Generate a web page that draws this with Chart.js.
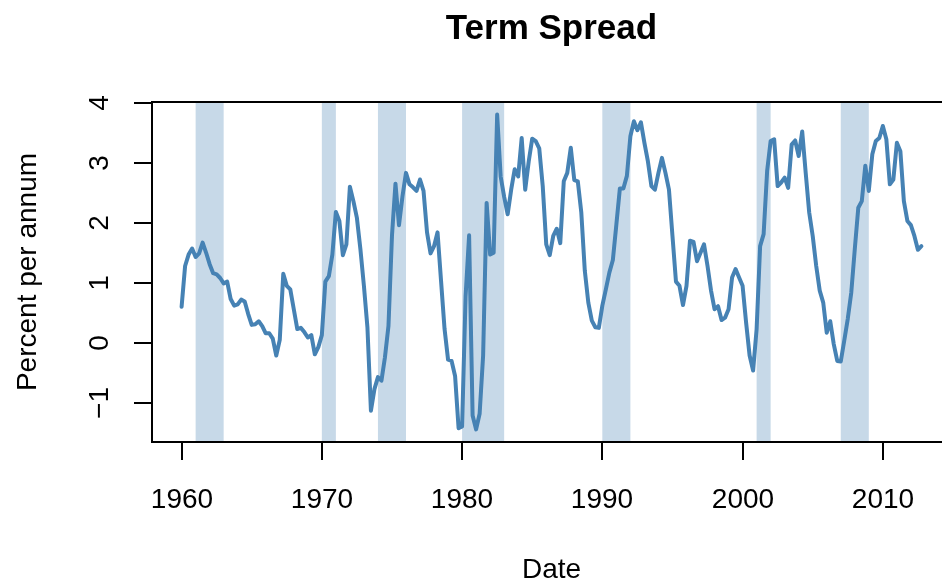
<!DOCTYPE html>
<html>
<head>
<meta charset="utf-8">
<title>Term Spread</title>
<script src="https://cdn.jsdelivr.net/npm/chart.js@4.4.1/dist/chart.umd.min.js"></script>
<style>
  html, body { margin: 0; padding: 0; background: #fff; overflow: hidden; }
  #wrap { width: 955px; height: 583px; position: relative; }
</style>
</head>
<body>
<div id="wrap"><canvas id="spreadChart"></canvas></div>
<script>
// 10-year minus 3-month rate, quarterly from 1960 Q1
const startYear = 1960;
const spread = [
  0.60, 1.28, 1.47, 1.57, 1.43, 1.49, 1.67, 1.50,
  1.31, 1.16, 1.14, 1.08, 0.99, 1.02, 0.73, 0.62,
  0.64, 0.72, 0.69, 0.48, 0.30, 0.31, 0.36, 0.28,
  0.16, 0.16, 0.07, -0.21, 0.05, 1.15, 0.95, 0.89,
  0.56, 0.23, 0.25, 0.18, 0.09, 0.13, -0.19, -0.07,
  0.13, 1.02, 1.11, 1.47, 2.18, 2.03, 1.46, 1.64,
  2.60, 2.36, 2.08, 1.56, 0.95, 0.26, -1.13, -0.77,
  -0.57, -0.63, -0.24, 0.28, 1.78, 2.65, 1.96, 2.44,
  2.83, 2.64, 2.59, 2.53, 2.72, 2.53, 1.84, 1.49,
  1.61, 1.84, 1.03, 0.23, -0.28, -0.30, -0.55, -1.42,
  -1.39, 0.78, 1.79, -1.21, -1.44, -1.18, -0.21, 2.33,
  1.47, 1.50, 3.80, 2.77, 2.43, 2.14, 2.55, 2.89,
  2.77, 3.41, 2.55, 3.02, 3.40, 3.36, 3.24, 2.61,
  1.64, 1.46, 1.78, 1.90, 1.66, 2.69, 2.83, 3.25,
  2.71, 2.69, 2.17, 1.20, 0.67, 0.37, 0.26, 0.25,
  0.62, 0.89, 1.17, 1.38, 1.97, 2.57, 2.57, 2.78,
  3.44, 3.69, 3.54, 3.67, 3.33, 3.02, 2.61, 2.55,
  2.83, 3.08, 2.83, 2.55, 1.78, 1.02, 0.95, 0.63,
  0.95, 1.70, 1.68, 1.36, 1.50, 1.64, 1.28, 0.87,
  0.56, 0.61, 0.38, 0.42, 0.56, 1.09, 1.23, 1.09,
  0.95, 0.34, -0.21, -0.46, 0.23, 1.61, 1.81, 2.86,
  3.36, 3.39, 2.61, 2.67, 2.75, 2.58, 3.30, 3.37,
  3.11, 3.52, 2.83, 2.17, 1.78, 1.28, 0.87, 0.67,
  0.17, 0.36, -0.02, -0.30, -0.31, 0.04, 0.40, 0.84,
  1.56, 2.25, 2.36, 2.95, 2.53, 3.14, 3.36, 3.41,
  3.61, 3.39, 2.64, 2.72, 3.33, 3.19, 2.36, 2.03,
  1.96, 1.78, 1.55, 1.61
];

// recession periods shaded behind the line
const recStart = [1961, 1970, 1974, 1980, 1990, 2001, 2007];
const recEnd   = [1963, 1971, 1976, 1983, 1992, 2002, 2009];

const xTicks = [1960, 1970, 1980, 1990, 2000, 2010];
const yTicks = [-1, 0, 1, 2, 3, 4];
const yTickLabels = ['\u22121', '0', '1', '2', '3', '4'];

const points = spread.map((v, i) => ({ x: startYear + i / 4, y: v }));

const FONT = '"Liberation Sans", Arial, Helvetica, sans-serif';
const bandColor = 'rgba(70, 130, 180, 0.3)';

// base-graphics style frame: box, outward ticks, rotated y labels
const rAxes = {
  id: 'rAxes',
  beforeDatasetsDraw(chart) {
    const { ctx, chartArea: a, scales: { x } } = chart;
    ctx.save();
    ctx.fillStyle = bandColor;
    recStart.forEach((s, k) => {
      const x0 = x.getPixelForValue(s);
      const x1 = x.getPixelForValue(recEnd[k]);
      ctx.fillRect(x0, a.top, x1 - x0, a.bottom - a.top);
    });
    ctx.restore();
  },
  afterDraw(chart) {
    const { ctx, chartArea: a, scales: { x, y } } = chart;
    const tick = 18;
    ctx.save();
    ctx.strokeStyle = '#000';
    ctx.lineWidth = 2;
    ctx.strokeRect(a.left, a.top, a.right - a.left, a.bottom - a.top);

    ctx.fillStyle = '#000';
    ctx.font = '28px ' + FONT;

    // x axis
    ctx.textAlign = 'center';
    ctx.textBaseline = 'alphabetic';
    xTicks.forEach(v => {
      const px = Math.round(x.getPixelForValue(v));
      ctx.beginPath();
      ctx.moveTo(px, a.bottom);
      ctx.lineTo(px, a.bottom + tick);
      ctx.stroke();
      ctx.fillText(String(v), px, a.bottom + 66);
    });

    // y axis
    yTicks.forEach((v, k) => {
      const py = Math.round(y.getPixelForValue(v));
      ctx.beginPath();
      ctx.moveTo(a.left, py);
      ctx.lineTo(a.left - tick, py);
      ctx.stroke();
      ctx.save();
      ctx.translate(a.left - 44, py);
      ctx.rotate(-Math.PI / 2);
      ctx.fillText(yTickLabels[k], 0, 0);
      ctx.restore();
    });

    const midX = (a.left + a.right) / 2;
    const midY = (a.top + a.bottom) / 2;

    ctx.fillText('Date', midX, a.bottom + 136);

    ctx.save();
    ctx.translate(36, midY);
    ctx.rotate(-Math.PI / 2);
    ctx.fillText('Percent per annum', 0, 0);
    ctx.restore();

    ctx.font = 'bold 35px ' + FONT;
    ctx.fillText('Term Spread', midX, 39);
    ctx.restore();
  }
};

const ctx = document.getElementById('spreadChart').getContext('2d');
const spreadChart = new Chart(ctx, {
  type: 'line',
  data: {
    datasets: [{
      label: 'Term spread',
      data: points,
      borderColor: '#4682B4',
      borderWidth: 4,
      borderJoinStyle: 'round',
      borderCapStyle: 'round',
      pointRadius: 0,
      tension: 0,
      fill: false
    }]
  },
  options: {
    responsive: true,
    maintainAspectRatio: false,
    animation: false,
    layout: { padding: { left: 152, top: 102, right: 4, bottom: 141 } },
    plugins: {
      legend: { display: false },
      tooltip: { enabled: false },
      title: { display: false }
    },
    scales: {
      x: { type: 'linear', min: 1957.89, max: 2014.86, display: false },
      y: { type: 'linear', min: -1.65, max: 4.01, display: false }
    }
  },
  plugins: [rAxes]
});
</script>
</body>
</html>
